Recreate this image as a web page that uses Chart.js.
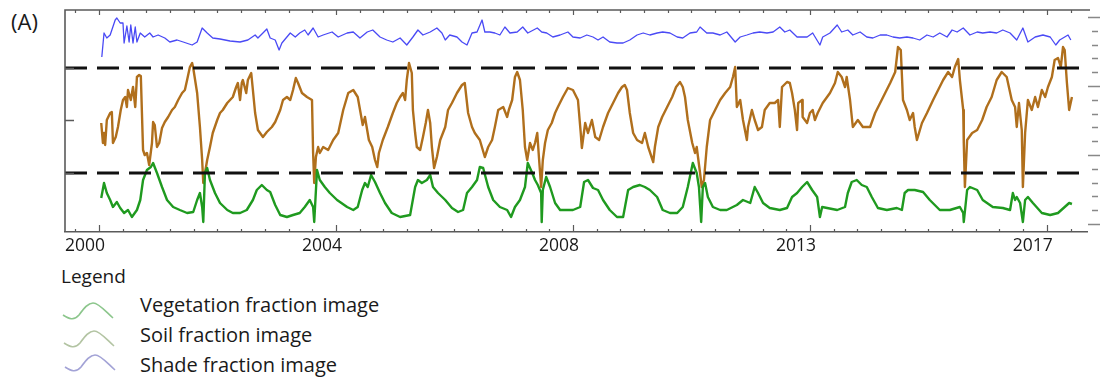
<!DOCTYPE html>
<html>
<head>
<meta charset="utf-8">
<script src="https://cdn.jsdelivr.net/npm/chart.js@4.4.1/dist/chart.umd.min.js"></script>
<style>
  body { margin: 0; background: #fff; }
  #wrap { position: relative; width: 1100px; height: 381px; overflow: hidden; font-family: "Open Sans", sans-serif; color: #1a1a1a; }
  #chart { position: absolute; left: 0; top: 0; }
  .txt { position: absolute; line-height: 1; white-space: nowrap; }
  .icon { position: absolute; }
</style>
</head>
<body>
<div id="wrap">
  <div class="txt" style="left:11px;top:10px;font-size:22px">(A)</div>
  <canvas id="chart" width="1100" height="262"></canvas>
  <div id="legend"></div>
</div>
<script>
// Axis ticks
const majorTickYears = [2000, 2004.25, 2008.5, 2012.75, 2017];
const tickLabels = ['2000', '2004', '2008', '2013', '2017'];
const leftTickValues = [0.59, 1.12, 1.64];
const thresholds = [1.64, 0.59];

// Series (decimal year, fraction value)
const seriesNames = ['Vegetation fraction image', 'Soil fraction image', 'Shade fraction image'];

const vegYears = [
  2000.04,2000.09,2000.14,2000.20,2000.25,2000.32,2000.38,2000.45,2000.52,2000.59,
  2000.68,2000.74,2000.79,2000.86,2000.93,2000.97,2001.04,2001.13,2001.22,2001.33,
  2001.45,2001.58,2001.69,2001.76,2001.81,2001.85,2001.87,2001.90,2001.94,2001.99,
  2002.08,2002.17,2002.30,2002.40,2002.53,2002.65,2002.76,2002.83,2002.92,2003.01,
  2003.07,2003.16,2003.25,2003.37,2003.48,2003.60,2003.69,2003.78,2003.84,2003.86,
  2003.91,2003.96,2004.05,2004.14,2004.27,2004.45,2004.56,2004.64,2004.72,2004.77,
  2004.82,2004.88,2004.95,2005.04,2005.13,2005.25,2005.40,2005.58,2005.67,2005.72,
  2005.79,2005.88,2005.94,2005.99,2006.08,2006.21,2006.33,2006.44,2006.53,2006.60,
  2006.69,2006.78,2006.83,2006.89,2006.98,2007.07,2007.19,2007.32,2007.39,2007.46,
  2007.55,2007.64,2007.69,2007.77,2007.82,2007.87,2007.93,2007.94,2007.96,2008.02,
  2008.09,2008.18,2008.27,2008.39,2008.50,2008.63,2008.70,2008.77,2008.86,2008.95,
  2009.04,2009.16,2009.29,2009.40,2009.49,2009.58,2009.70,2009.79,2009.88,2010.01,
  2010.11,2010.24,2010.37,2010.47,2010.56,2010.65,2010.72,2010.76,2010.80,2010.83,
  2010.87,2010.92,2011.01,2011.14,2011.26,2011.44,2011.55,2011.68,2011.76,2011.82,
  2011.91,2012.03,2012.21,2012.34,2012.43,2012.52,2012.61,2012.70,2012.79,2012.88,
  2012.93,2012.97,2013.06,2013.24,2013.38,2013.43,2013.50,2013.59,2013.68,2013.77,
  2013.86,2013.97,2014.13,2014.31,2014.40,2014.45,2014.51,2014.63,2014.78,2014.90,
  2015.08,2015.26,2015.44,2015.50,2015.51,2015.57,2015.62,2015.75,2015.85,2016.03,
  2016.21,2016.34,2016.39,2016.43,2016.46,2016.52,2016.57,2016.61,2016.66,2016.75,
  2016.91,2017.06,2017.20,2017.32,2017.40,2017.45
];
const vegValues = [
  0.34,0.49,0.39,0.32,0.25,0.30,0.24,0.19,0.22,0.15,
  0.22,0.32,0.52,0.62,0.65,0.69,0.59,0.45,0.32,0.25,
  0.22,0.19,0.20,0.32,0.39,0.25,0.10,0.59,0.64,0.52,
  0.39,0.29,0.22,0.19,0.19,0.22,0.32,0.42,0.47,0.42,
  0.40,0.27,0.17,0.15,0.17,0.19,0.25,0.32,0.25,0.10,
  0.62,0.52,0.45,0.39,0.32,0.25,0.22,0.25,0.42,0.49,
  0.45,0.57,0.50,0.39,0.29,0.19,0.15,0.17,0.45,0.52,
  0.49,0.52,0.57,0.45,0.39,0.32,0.24,0.20,0.22,0.39,
  0.45,0.52,0.65,0.64,0.45,0.32,0.25,0.22,0.15,0.25,
  0.32,0.45,0.69,0.59,0.52,0.47,0.39,0.10,0.42,0.55,
  0.45,0.29,0.22,0.22,0.22,0.25,0.50,0.52,0.44,0.42,
  0.32,0.22,0.15,0.15,0.42,0.45,0.47,0.45,0.42,0.35,
  0.22,0.19,0.19,0.25,0.45,0.69,0.59,0.45,0.10,0.45,
  0.49,0.35,0.25,0.22,0.22,0.27,0.32,0.29,0.45,0.39,
  0.29,0.24,0.22,0.24,0.35,0.39,0.45,0.50,0.42,0.35,
  0.15,0.25,0.24,0.22,0.25,0.39,0.50,0.52,0.47,0.45,
  0.35,0.24,0.22,0.24,0.22,0.39,0.42,0.42,0.40,0.32,
  0.22,0.22,0.25,0.19,0.10,0.42,0.45,0.42,0.32,0.25,
  0.24,0.22,0.39,0.32,0.35,0.29,0.10,0.32,0.35,0.29,
  0.19,0.17,0.19,0.25,0.29,0.28
];

const soilYears = [
  2000.04,2000.07,2000.09,2000.11,2000.14,2000.20,2000.23,2000.25,2000.30,2000.34,
  2000.39,2000.43,2000.47,2000.50,2000.52,2000.57,2000.61,2000.65,2000.68,2000.72,
  2000.75,2000.79,2000.82,2000.86,2000.90,2000.95,2000.97,2001.00,2001.04,2001.08,
  2001.13,2001.18,2001.24,2001.31,2001.36,2001.42,2001.49,2001.54,2001.58,2001.63,
  2001.67,2001.69,2001.76,2001.81,2001.85,2001.87,2001.90,2001.94,2001.99,2002.04,
  2002.12,2002.17,2002.22,2002.30,2002.35,2002.40,2002.46,2002.49,2002.53,2002.56,
  2002.58,2002.64,2002.67,2002.73,2002.76,2002.80,2002.85,2002.94,2003.01,2003.10,
  2003.16,2003.25,2003.30,2003.37,2003.43,2003.48,2003.53,2003.57,2003.64,2003.73,
  2003.82,2003.84,2003.86,2003.89,2003.93,2003.96,2004.02,2004.11,2004.20,2004.29,
  2004.38,2004.47,2004.56,2004.64,2004.73,2004.77,2004.84,2004.90,2004.95,2004.99,
  2005.02,2005.09,2005.18,2005.27,2005.34,2005.40,2005.45,2005.49,2005.52,2005.56,
  2005.61,2005.63,2005.67,2005.70,2005.76,2005.81,2005.86,2005.90,2005.94,2005.97,
  2006.01,2006.06,2006.12,2006.21,2006.26,2006.33,2006.42,2006.51,2006.56,2006.62,
  2006.69,2006.74,2006.83,2006.92,2006.98,2007.05,2007.10,2007.16,2007.25,2007.32,
  2007.35,2007.41,2007.46,2007.50,2007.55,2007.60,2007.64,2007.68,2007.73,2007.78,
  2007.82,2007.86,2007.89,2007.93,2007.96,2008.00,2008.05,2008.12,2008.18,2008.23,
  2008.32,2008.41,2008.50,2008.59,2008.64,2008.66,2008.72,2008.77,2008.84,2008.90,
  2008.97,2009.04,2009.13,2009.22,2009.31,2009.38,2009.43,2009.47,2009.52,2009.58,
  2009.65,2009.74,2009.79,2009.85,2009.94,2009.97,2010.03,2010.10,2010.19,2010.28,
  2010.35,2010.42,2010.47,2010.51,2010.56,2010.64,2010.69,2010.72,2010.78,2010.81,
  2010.85,2010.90,2010.96,2011.05,2011.14,2011.23,2011.32,2011.37,2011.41,2011.44,
  2011.50,2011.55,2011.62,2011.64,2011.71,2011.76,2011.82,2011.89,2011.94,2012.03,
  2012.12,2012.18,2012.21,2012.25,2012.34,2012.39,2012.43,2012.48,2012.52,2012.54,
  2012.61,2012.62,2012.70,2012.75,2012.80,2012.84,2012.89,2012.98,2013.11,2013.20,
  2013.25,2013.32,2013.38,2013.41,2013.47,2013.52,2013.61,2013.70,2013.83,2013.92,
  2014.01,2014.10,2014.19,2014.28,2014.33,2014.38,2014.42,2014.49,2014.54,2014.60,
  2014.63,2014.67,2014.76,2014.85,2014.96,2015.05,2015.14,2015.23,2015.30,2015.35,
  2015.41,2015.44,2015.50,2015.51,2015.53,2015.57,2015.66,2015.75,2015.84,2015.92,
  2016.01,2016.10,2016.19,2016.28,2016.37,2016.43,2016.46,2016.50,2016.55,2016.57,
  2016.61,2016.66,2016.73,2016.79,2016.84,2016.91,2016.97,2017.02,2017.09,2017.14,
  2017.20,2017.25,2017.29,2017.32,2017.36,2017.40,2017.45
];
const soilValues = [
  1.09,0.89,0.99,0.87,1.12,1.19,1.20,0.89,0.95,1.05,
  1.22,1.32,1.35,1.25,1.42,1.32,1.45,1.25,1.55,1.57,
  1.56,0.82,0.77,0.79,0.67,0.89,1.10,1.07,0.85,0.89,
  1.04,1.10,1.15,1.22,1.25,1.32,1.39,1.42,1.52,1.65,
  1.69,1.64,1.39,1.05,0.72,0.49,0.59,0.72,0.85,0.99,
  1.12,1.19,1.22,1.29,1.32,1.35,1.45,1.49,1.32,1.49,
  1.52,1.39,1.52,1.59,1.42,1.19,1.02,0.95,1.00,1.05,
  1.10,1.22,1.32,1.35,1.32,1.42,1.54,1.49,1.39,1.35,
  1.32,0.79,0.49,0.75,0.85,0.79,0.85,0.82,0.92,0.99,
  1.22,1.39,1.42,1.35,1.07,1.15,0.92,0.85,0.72,0.65,
  0.79,0.92,1.05,1.19,1.29,1.35,1.39,1.32,1.52,1.69,
  1.59,1.22,0.99,0.85,0.82,0.95,1.09,1.22,1.09,0.85,
  0.64,0.75,0.92,1.05,1.22,1.29,1.39,1.47,1.49,1.19,
  1.05,0.99,0.92,0.75,0.85,0.92,1.05,1.22,1.25,1.15,
  1.22,1.32,1.55,1.60,1.52,1.22,0.85,0.72,0.89,0.82,
  0.89,0.99,0.75,0.45,0.72,0.89,1.02,1.09,1.19,1.25,
  1.35,1.44,1.42,1.32,0.99,0.84,1.09,0.99,1.12,0.95,
  0.92,1.05,1.19,1.29,1.39,1.45,1.47,1.42,1.19,0.99,
  0.92,0.89,0.99,0.85,0.70,0.85,1.05,1.15,1.25,1.35,
  1.45,1.50,1.45,1.35,1.12,0.89,0.79,0.85,0.59,0.45,
  0.52,0.85,1.12,1.22,1.32,1.39,1.45,1.55,1.65,1.25,
  1.32,1.12,0.92,1.05,1.22,1.12,1.02,1.05,1.22,1.29,
  1.29,1.32,1.05,1.45,1.50,1.49,1.39,1.22,1.02,1.29,
  1.32,1.15,1.09,1.19,1.22,1.12,1.19,1.29,1.39,1.49,
  1.60,1.55,1.45,1.55,1.32,1.05,1.12,1.05,1.05,1.19,
  1.29,1.39,1.49,1.60,1.85,1.82,1.32,1.22,1.12,1.19,
  1.05,0.92,1.09,1.19,1.32,1.42,1.52,1.60,1.55,1.65,
  1.73,1.52,1.22,0.89,0.45,0.92,0.99,1.02,1.12,1.25,
  1.35,1.52,1.60,1.55,1.32,1.25,1.05,1.29,1.02,0.45,
  0.99,1.32,1.22,1.35,1.25,1.42,1.35,1.45,1.55,1.72,
  1.74,1.65,1.85,1.82,1.49,1.22,1.35
];

const shadeYears = [
  2000.05,2000.09,2000.14,2000.20,2000.29,2000.32,2000.38,2000.43,2000.45,2000.50,
  2000.54,2000.57,2000.61,2000.65,2000.68,2000.74,2000.82,2000.91,2000.97,2001.06,
  2001.18,2001.27,2001.40,2001.51,2001.67,2001.76,2001.85,2001.94,2002.04,2002.17,
  2002.35,2002.53,2002.67,2002.80,2002.85,2002.94,2003.01,2003.07,2003.16,2003.23,
  2003.28,2003.37,2003.43,2003.52,2003.60,2003.69,2003.75,2003.84,2003.93,2004.02,
  2004.18,2004.29,2004.45,2004.56,2004.68,2004.81,2004.91,2005.04,2005.16,2005.27,
  2005.40,2005.52,2005.63,2005.72,2005.81,2005.94,2006.06,2006.15,2006.21,2006.29,
  2006.42,2006.51,2006.60,2006.69,2006.78,2006.87,2006.92,2007.01,2007.10,2007.19,
  2007.28,2007.37,2007.50,2007.60,2007.69,2007.86,2007.94,2008.03,2008.14,2008.27,
  2008.41,2008.50,2008.63,2008.75,2008.86,2008.95,2009.04,2009.16,2009.29,2009.40,
  2009.52,2009.65,2009.76,2009.88,2010.01,2010.11,2010.24,2010.37,2010.47,2010.60,
  2010.72,2010.78,2010.90,2011.01,2011.14,2011.26,2011.41,2011.50,2011.62,2011.73,
  2011.85,2011.98,2012.09,2012.21,2012.30,2012.39,2012.52,2012.70,2012.80,2012.93,
  2012.98,2013.11,2013.24,2013.32,2013.43,2013.52,2013.65,2013.77,2013.88,2014.01,
  2014.13,2014.24,2014.36,2014.49,2014.60,2014.72,2014.85,2014.96,2015.08,2015.21,
  2015.30,2015.39,2015.50,2015.62,2015.75,2015.85,2015.98,2016.10,2016.21,2016.34,
  2016.46,2016.57,2016.66,2016.79,2016.93,2017.06,2017.16,2017.23,2017.32,2017.38,
  2017.43
];
const shadeValues = [
  1.75,1.99,1.94,1.97,2.12,2.14,2.09,2.09,1.89,2.06,
  1.90,2.07,1.89,2.05,1.90,1.99,1.95,1.99,1.95,1.97,
  1.94,1.90,1.92,1.90,1.87,1.90,2.04,1.99,1.94,1.93,
  1.91,1.90,1.92,1.97,1.94,1.99,2.03,1.94,1.92,1.82,
  1.89,1.95,1.99,1.95,1.99,2.02,1.97,2.04,1.95,1.97,
  2.00,1.95,1.99,2.00,1.94,2.00,2.02,1.95,1.92,1.90,
  1.94,1.87,1.95,2.02,1.97,2.00,2.04,1.99,1.92,1.97,
  1.95,1.90,1.87,1.99,2.00,2.12,2.00,2.00,1.99,1.97,
  2.05,1.99,2.00,2.05,1.99,2.04,2.00,1.99,1.95,1.97,
  2.00,1.95,1.94,1.97,1.95,1.92,1.95,1.90,1.89,1.89,
  1.92,1.97,1.99,1.97,1.99,2.00,1.99,1.95,1.94,1.99,
  2.00,2.05,1.99,1.99,1.97,2.00,1.90,1.95,1.97,1.99,
  2.00,1.99,2.00,2.05,2.00,2.02,1.95,1.95,1.99,1.87,
  1.95,1.99,2.07,2.00,2.02,1.97,2.00,1.95,1.94,1.97,
  1.97,1.95,1.94,1.95,1.94,1.92,1.97,1.95,1.99,1.95,
  2.02,2.00,2.04,1.97,2.00,1.99,2.00,1.99,2.02,1.99,
  1.92,2.04,1.90,1.95,1.97,1.95,1.87,1.92,1.95,1.97,
  1.92
];

const xMin = 1999.39, xMax = 2017.72;
const yMin = 0, yMax = 2.22;

const toPoints = (xs, ys) => xs.map((x, i) => ({ x: x, y: ys[i] }));
const thresholdLine = v => [{ x: xMin, y: v }, { x: xMax, y: v }];

// frame, inward ticks, right-hand marks
const framePlugin = {
  id: 'frame',
  afterDraw(chart) {
    const { ctx, chartArea: a, scales: { x, y } } = chart;
    ctx.save();
    ctx.strokeStyle = '#5a5a5a';
    ctx.lineWidth = 1.6;
    ctx.beginPath();
    ctx.moveTo(a.left, a.bottom);
    ctx.lineTo(a.left, a.top);
    ctx.lineTo(a.right + 3, a.top);
    ctx.stroke();

    const step = (majorTickYears[1] - majorTickYears[0]) / 10;
    ctx.lineWidth = 1.2;
    ctx.beginPath();
    for (let k = -1; ; k++) {
      const v = majorTickYears[0] + k * step;
      if (v > xMax) break;
      const px = Math.round(x.getPixelForValue(v)) + 0.5;
      const major = k % 10 === 0;
      ctx.moveTo(px, a.bottom);
      ctx.lineTo(px, a.bottom - (major ? 7 : 3));
      ctx.moveTo(px, a.top);
      ctx.lineTo(px, a.top + (major ? 5 : 3));
    }
    ctx.stroke();

    ctx.lineWidth = 1.5;
    ctx.beginPath();
    leftTickValues.forEach(v => {
      const py = Math.round(y.getPixelForValue(v)) + 0.5;
      ctx.moveTo(a.left, py);
      ctx.lineTo(a.left + 9, py);
    });
    ctx.stroke();

    ctx.strokeStyle = '#888';
    ctx.beginPath();
    for (let k = 0; ; k++) {
      const v = 0.08 + k * 0.138;
      if (v > yMax) break;
      const py = Math.round(y.getPixelForValue(v)) + 0.5;
      const major = k % 5 === 0;
      ctx.moveTo(a.right + (major ? 1 : 5), py);
      ctx.lineTo(a.right + (major ? 13 : 11), py);
    }
    ctx.stroke();
    ctx.restore();
  }
};

const dashStyle = {
  type: 'line', borderColor: '#111', borderWidth: 3, borderDash: [22, 10],
  pointRadius: 0, fill: false
};

new Chart(document.getElementById('chart'), {
  type: 'line',
  data: {
    datasets: [
      Object.assign({ data: thresholdLine(thresholds[0]) }, dashStyle),
      Object.assign({ data: thresholdLine(thresholds[1]) }, dashStyle),
      { label: seriesNames[0], data: toPoints(vegYears, vegValues), borderColor: '#1f9a1f', borderWidth: 2.4, pointRadius: 0 },
      { label: seriesNames[1], data: toPoints(soilYears, soilValues), borderColor: '#b06f1c', borderWidth: 2.4, pointRadius: 0 },
      { label: seriesNames[2], data: toPoints(shadeYears, shadeValues), borderColor: '#4a4af5', borderWidth: 1.3, pointRadius: 0 }
    ]
  },
  options: {
    responsive: false,
    animation: false,
    events: [],
    layout: { padding: { left: 65, right: 13, top: 10, bottom: 0 } },
    plugins: { legend: { display: false }, tooltip: { enabled: false } },
    elements: { line: { tension: 0, borderJoinStyle: 'round' } },
    scales: {
      x: {
        type: 'linear', min: xMin, max: xMax,
        afterBuildTicks: s => { s.ticks = majorTickYears.map(v => ({ value: v })); },
        afterFit: s => { s.height = 30; },
        grid: { display: false, drawTicks: false },
        border: { display: true, color: '#5a5a5a', width: 1.6 },
        ticks: {
          callback: (v, i) => tickLabels[i],
          font: { family: 'Open Sans', size: 17.5 },
          color: '#1a1a1a', padding: 4, labelOffset: -14,
          autoSkip: false, maxRotation: 0
        }
      },
      y: { display: false, min: yMin, max: yMax }
    }
  },
  plugins: [framePlugin]
});

// legend below the chart
const legendColors = ['#8cc68c', '#b3c4a3', '#a3a3d6'];
const legendRows = [
  { text: 298, icon: [62, 302] },
  { text: 328, icon: [63, 330] },
  { text: 358, icon: [64, 354] }
];
const legend = document.getElementById('legend');
let html = '<div class="txt" style="left:61px;top:267px;font-size:19px">Legend</div>';
seriesNames.forEach((name, i) => {
  const r = legendRows[i];
  html += '<svg class="icon" width="54" height="22" style="left:' + r.icon[0] + 'px;top:' + r.icon[1] + 'px">' +
    '<path d="M1 13 C7 17 12 19 17 13 C22 6 26 1 31 1 C37 1 44 10 51 16" fill="none" stroke="' + legendColors[i] + '" stroke-width="1.6"/></svg>';
  html += '<div class="txt" style="left:140px;top:' + (r.text - 3.5) + 'px;font-size:20px">' + name + '</div>';
});
legend.innerHTML = html;
</script>
</body>
</html>
